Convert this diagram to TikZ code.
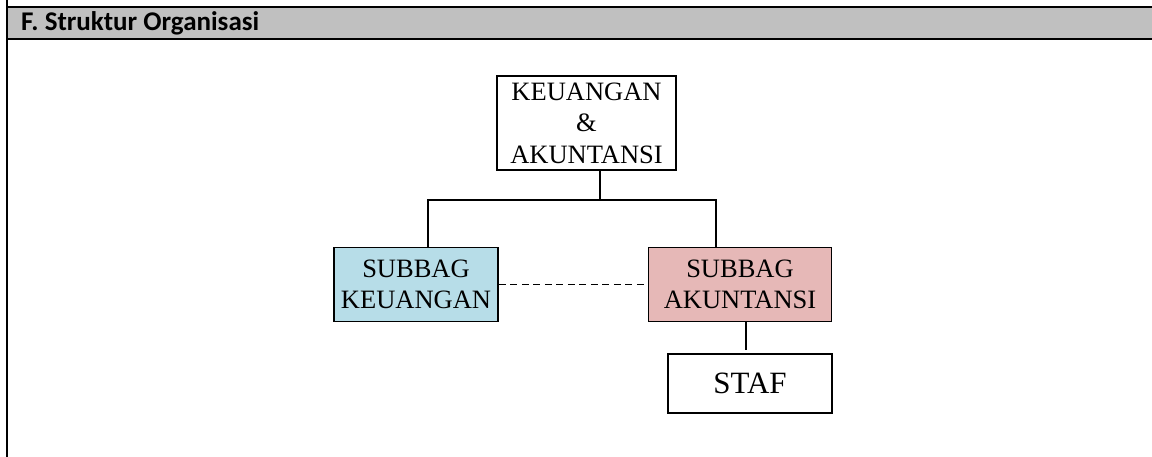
\documentclass[tikz,border=0pt]{standalone}
\usepackage{fontspec}
\setmainfont{Liberation Serif}
\newfontfamily\hdrfont{Carlito}
\definecolor{hdrgray}{HTML}{C0C0C0}
\definecolor{subblue}{HTML}{B7DDE8}
\definecolor{subred}{HTML}{E6B8B7}
\begin{document}
\begin{tikzpicture}[x=1pt,y=-1pt,
  orgbox/.style={draw=black, line width=1.6pt, inner sep=0pt, align=center,
    font=\fontsize{26.5}{31.5}\selectfont},
  conn/.style={line width=1.8pt}]
\useasboundingbox (0,0) rectangle (1152,457);
% header band
\fill[hdrgray] (7,7) rectangle (1152,39);
\draw[line width=2.2pt] (7,7) -- (1152,7);
\draw[line width=2.2pt] (7,39) -- (1152,39);
\draw[line width=2.2pt] (7,0) -- (7,457);
\node[anchor=base west, inner sep=0pt, font=\hdrfont\bfseries\fontsize{27}{29}\selectfont] (title) at (21,30.5) {F. Struktur Organisasi};
% boxes
\node[orgbox, fill=white, minimum width=179pt, minimum height=94pt] (top) at (586.5,123) {KEUANGAN\\\&\\AKUNTANSI};
\node[orgbox, fill=subblue, minimum width=164pt, minimum height=74pt] (sk) at (416,284.5) {SUBBAG\\KEUANGAN};
\node[orgbox, fill=subred, minimum width=183pt, minimum height=74pt] (sa) at (740,284.5) {SUBBAG\\AKUNTANSI};
\node[orgbox, fill=white, minimum width=164pt, minimum height=59pt, font=\fontsize{31}{36}\selectfont] (staf) at (750,383.5) {STAF};
% connectors
\coordinate (j) at (600,200);
\draw[conn] (top.south -| j) -- (j);
\draw[conn] (sk.north -| 428,0) |- (j) -| (sa.north -| 716,0);
\draw[conn, dashed, dash pattern=on 7pt off 4.5pt] (sk.east) -- (sa.west);
\coordinate (s1) at (746,350);
\draw[conn] (sa.south -| s1) -- (s1);
\end{tikzpicture}
\end{document}
